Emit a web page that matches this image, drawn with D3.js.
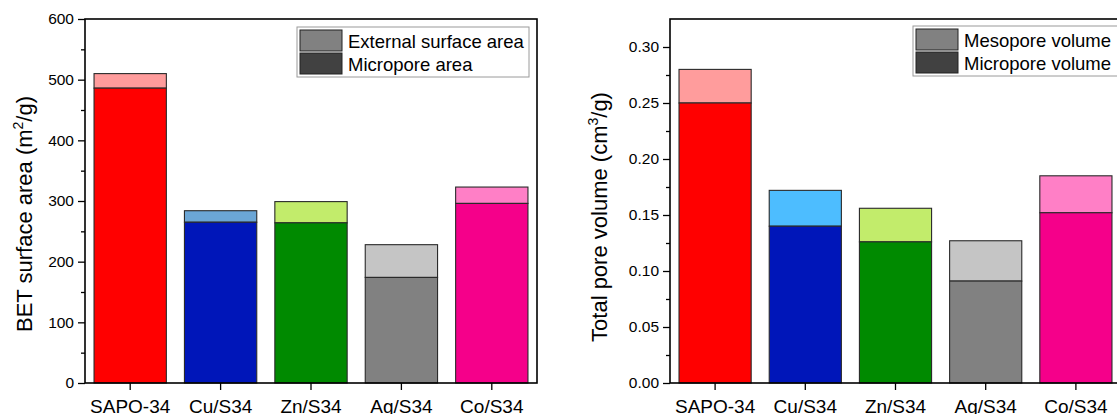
<!DOCTYPE html>
<html>
<head>
<meta charset="utf-8">
<script src="https://cdn.jsdelivr.net/npm/d3@7"></script>
<style>
  body { margin: 0; background: #fff; }
  svg { display: block; font-family: "Liberation Sans", Arial, sans-serif; }
</style>
</head>
<body>
<svg id="chart"></svg>
<script>
// data
var samples = ["SAPO-34", "Cu/S34", "Zn/S34", "Ag/S34", "Co/S34"];
var microArea = [486, 265, 264, 174, 296];
var totalArea = [510, 284, 299, 228, 323];
var microVol = [0.250, 0.140, 0.126, 0.091, 0.152];
var totalVol = [0.280, 0.172, 0.156, 0.127, 0.185];

var darkColors = ["#ff0000", "#0016b9", "#008a00", "#818181", "#f5008a"];
var lightAreaColors = ["#ff9c9c", "#6ba6d6", "#c2ec6b", "#c5c5c5", "#ff7fc6"];
var lightVolColors = ["#ff9c9c", "#4dbdff", "#c2ec6b", "#c5c5c5", "#ff7fc6"];

var svg = d3.select("#chart")
    .attr("width", 1117)
    .attr("height", 414);

function panel(opt) {
  var x = d3.scaleBand()
      .domain(samples)
      .range([opt.left, opt.right])
      .paddingInner(0.2)
      .paddingOuter(0.1);

  var y = d3.scaleLinear()
      .domain(opt.domain)
      .range([383, 19]);

  var g = svg.append("g");

  var rows = samples.map(function(s, i) {
    return { name: s, micro: opt.micro[i], total: opt.total[i], i: i };
  });

  // upper (external / mesopore) part
  g.selectAll(".top").data(rows).enter().append("rect")
      .attr("x", function(d) { return x(d.name); })
      .attr("width", x.bandwidth())
      .attr("y", function(d) { return y(d.total); })
      .attr("height", function(d) { return y(d.micro) - y(d.total); })
      .attr("fill", function(d) { return opt.light[d.i]; })
      .attr("stroke", "#2a2a2a")
      .attr("stroke-width", 1.1);

  // lower (micropore) part
  g.selectAll(".bottom").data(rows).enter().append("rect")
      .attr("x", function(d) { return x(d.name); })
      .attr("width", x.bandwidth())
      .attr("y", function(d) { return y(d.micro); })
      .attr("height", function(d) { return y(0) - y(d.micro); })
      .attr("fill", function(d) { return darkColors[d.i]; })
      .attr("stroke", "#2a2a2a")
      .attr("stroke-width", 1.1);

  // y axis with minor ticks
  var yAxis = g.append("g")
      .attr("transform", "translate(" + opt.left + ",0)")
      .call(d3.axisLeft(y).tickValues(opt.ticks).tickFormat(opt.fmt).tickSize(7).tickPadding(4));
  yAxis.select(".domain").remove();
  yAxis.selectAll("text").attr("font-size", 15.5).attr("fill", "#000").attr("font-family", null);
  yAxis.selectAll("line").attr("stroke-width", 1.3);

  g.append("g")
      .attr("transform", "translate(" + opt.left + ",0)")
      .call(d3.axisLeft(y).tickValues(opt.minor).tickFormat("").tickSize(4))
      .call(function(a) { a.select(".domain").remove(); a.selectAll("line").attr("stroke-width", 1.3); });

  // x axis
  var xAxis = g.append("g")
      .attr("transform", "translate(0,383)")
      .call(d3.axisBottom(x).tickSize(7).tickPadding(8));
  xAxis.select(".domain").remove();
  xAxis.selectAll("text").attr("font-size", 19).attr("fill", "#000").attr("font-family", null)
      .attr("dy", "0.78em");
  xAxis.selectAll("line").attr("stroke-width", 1.3);

  // frame
  g.append("rect")
      .attr("x", opt.left)
      .attr("y", 19)
      .attr("width", opt.right - opt.left)
      .attr("height", 364)
      .attr("fill", "none")
      .attr("stroke", "#000")
      .attr("stroke-width", 1.6);

  // axis title
  var title = g.append("text")
      .attr("transform", "translate(" + opt.titleX + "," + opt.titleY + ") rotate(-90)")
      .attr("text-anchor", "middle")
      .attr("font-size", 22)
      .attr("fill", "#000");
  title.append("tspan").text(opt.title[0]);
  title.append("tspan").attr("font-size", 14).attr("dy", -9).text(opt.title[1]);
  title.append("tspan").attr("dy", 9).text(opt.title[2]);

  // legend
  var lg = g.append("g");
  lg.append("rect")
      .attr("x", opt.legX)
      .attr("y", opt.legY)
      .attr("width", opt.legW)
      .attr("height", 50)
      .attr("fill", "#fff")
      .attr("stroke", "#9a9a9a")
      .attr("stroke-width", 1);

  var items = lg.selectAll(".item")
      .data(opt.legend)
      .enter().append("g")
      .attr("transform", function(d, i) { return "translate(" + (opt.legX + 3) + "," + (opt.legY + 3 + i * 23) + ")"; });

  items.append("rect")
      .attr("width", 42)
      .attr("height", 21)
      .attr("fill", function(d, i) { return i === 0 ? "#818181" : "#414141"; })
      .attr("stroke", "#222")
      .attr("stroke-width", 1);

  items.append("text")
      .attr("x", 48)
      .attr("y", 18)
      .attr("font-size", 18.5)
      .attr("fill", "#000")
      .text(function(d) { return d; });
}

panel({
  left: 85, right: 537,
  domain: [0, 600],
  ticks: [0, 100, 200, 300, 400, 500, 600],
  minor: [50, 150, 250, 350, 450, 550],
  fmt: d3.format("d"),
  micro: microArea, total: totalArea, light: lightAreaColors,
  title: ["BET surface area (m", "2", "/g)"],
  titleX: 32, titleY: 214,
  legX: 297, legY: 27, legW: 232,
  legend: ["External surface area", "Micropore area"]
});

panel({
  left: 670, right: 1121,
  domain: [0, 0.325],
  ticks: [0, 0.05, 0.10, 0.15, 0.20, 0.25, 0.30],
  minor: [0.025, 0.075, 0.125, 0.175, 0.225, 0.275],
  fmt: d3.format(".2f"),
  micro: microVol, total: totalVol, light: lightVolColors,
  title: ["Total pore volume (cm", "3", "/g)"],
  titleX: 607, titleY: 217,
  legX: 913, legY: 26, legW: 206,
  legend: ["Mesopore volume", "Micropore volume"]
});
</script>
</body>
</html>
